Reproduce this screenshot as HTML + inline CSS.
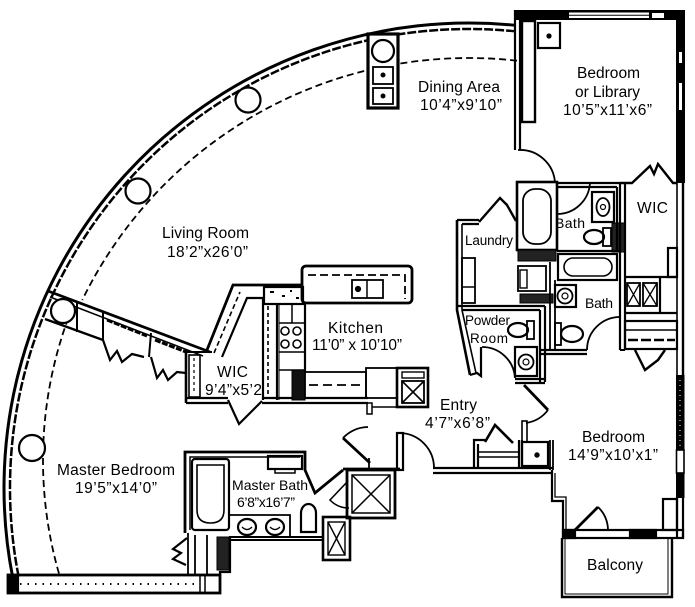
<!DOCTYPE html>
<html><head><meta charset="utf-8"><style>
html,body{margin:0;padding:0;background:#fff;}
svg{display:block}
text{font-family:"Liberation Sans",Arial,sans-serif;fill:#000;stroke:none}
</style></head><body>
<svg width="695" height="607" viewBox="0 0 695 607" xmlns="http://www.w3.org/2000/svg">
<rect width="695" height="607" fill="#fff"/>
<g fill="none" stroke="#000" stroke-width="2.2">

<!-- OUTER CURVED WALL -->
<path d="M515,25.3 A465,465 0 0 0 12.8,578" stroke-width="3"/>
<path d="M515,31.3 A459,459 0 0 0 18.9,578" stroke-width="2.5" stroke-dasharray="9,2"/>
<path d="M517,60.7 A430,430 0 0 0 82.3,300" stroke-width="1.8" stroke-dasharray="7,4"/>
<path d="M68.3,318 A411,411 0 0 0 60,577" stroke-width="1.8" stroke-dasharray="7,4"/>

<!-- columns -->
<circle cx="248" cy="100" r="12.5" fill="#fff"/>
<circle cx="138" cy="191" r="12.5" fill="#fff"/>
<circle cx="32" cy="448" r="13" fill="#fff"/>

<!-- dining column box -->
<rect x="368" y="34" width="30" height="74" fill="#fff" stroke-width="3.2"/>
<circle cx="383" cy="51" r="11" fill="#fff"/>
<rect x="373" y="67" width="20" height="17" stroke-width="1.8"/>
<rect x="373" y="88" width="20" height="16" stroke-width="1.8"/>
<circle cx="383" cy="75" r="1.4" fill="#000"/>
<circle cx="383" cy="96" r="1.4" fill="#000"/>

<!-- partition living / master bedroom -->
<path d="M48,291 L210,352" stroke-width="2.8"/>
<path d="M50,297 L203,356" stroke-width="1.6"/>
<path d="M45,319 L103,340" stroke-width="2.4"/>
<path d="M77,302 V332" stroke-width="2"/>
<path d="M103,313 V340" stroke-width="2"/>
<circle cx="63" cy="311" r="12" fill="#fff"/>
<path d="M107,320 L147,336" stroke-width="3" stroke-dasharray="6,1.5"/>
<path d="M155,340 L186,352" stroke-width="3" stroke-dasharray="6,1.5"/>
<path d="M151,333 L149,357" stroke-width="2"/>
<path d="M186,350 V362" stroke-width="2"/>
<path d="M103,340 L110,360 L117,351 L122,362 L132,354 L144,357" stroke-width="2.2"/>
<path d="M151,357 L157,378 L163,370 L168,380 L177,372 L186,373" stroke-width="2.2"/>

<!-- WIC near kitchen -->
<path d="M207,350 L233,285 H303" stroke-width="2.8"/>
<path d="M222,357 L247,298 H264" stroke-width="2.2"/>
<path d="M214,353 L240,292" stroke-width="1.6" stroke-dasharray="5,3"/>
<path d="M186,350 V403" stroke-width="2.6"/>
<path d="M186,352 H212" stroke-width="2"/>
<rect x="189" y="355" width="11" height="42" stroke-width="1.6"/>
<path d="M194,358 V394" stroke-width="1.2" stroke-dasharray="3,3"/>
<path d="M186,398 H228 M186,403 H228" stroke-width="2.2"/>
<path d="M228,400 L239,424 L262,401" stroke-width="2.2"/>
<path d="M262,398 H368 M262,403 H368" stroke-width="2.2"/>

<!-- kitchen -->
<rect x="302" y="266" width="110" height="37" rx="4" stroke-width="2.8"/>
<path d="M308,275 H405 V299" stroke-dasharray="8,4" stroke-width="1.8"/>
<rect x="352" y="280" width="31" height="18" stroke-width="1.8"/>
<line x1="367" y1="280" x2="367" y2="298" stroke-width="1.5"/>
<circle cx="358" cy="289" r="2" fill="#000"/>
<rect x="264" y="287" width="39" height="17" stroke-width="2.2"/>
<path d="M270,292 h4 M282,296 h3 M290,291 h2 M296,298 h3" stroke-width="2"/>
<line x1="263" y1="298" x2="263" y2="400" stroke-width="2.2"/>
<line x1="268" y1="306" x2="268" y2="398" stroke-width="1.6" stroke-dasharray="4,3"/>
<line x1="277" y1="304" x2="277" y2="400" stroke-width="2.2"/>
<line x1="279" y1="304" x2="279" y2="400" stroke-width="1"/>
<line x1="305" y1="304" x2="305" y2="372" stroke-width="2.2"/>
<line x1="292" y1="304" x2="292" y2="323" stroke-width="1.5"/>
<path d="M279,323 H305 M279,352 H305 M279,370 H305" stroke-width="1.6"/>
<circle cx="285" cy="331" r="4" stroke-width="1.6"/>
<circle cx="297" cy="331" r="4" stroke-width="1.6"/>
<circle cx="285" cy="344" r="4" stroke-width="1.6"/>
<circle cx="297" cy="344" r="4" stroke-width="1.6"/>
<rect x="292" y="370" width="13" height="30" fill="#111" stroke-width="1"/>
<rect x="305" y="372" width="61" height="26" stroke-width="1.8"/>
<path d="M309,385 H362" stroke-width="1.8" stroke-dasharray="9,5"/>
<rect x="366" y="368" width="31" height="30" stroke-width="1.8"/>
<rect x="397" y="368" width="31" height="39" stroke-width="2.6"/>
<rect x="402" y="372" width="22" height="6" stroke-width="1.4"/>
<rect x="402" y="381" width="22" height="22" stroke-width="1.8"/>
<path d="M402,381 L424,403 M424,381 L402,403" stroke-width="1.6"/>
<rect x="367" y="403" width="5" height="11" stroke-width="1.5"/>
<path d="M372,407 H397" stroke-width="1.5"/>

<!-- entry door from kitchen side -->
<path d="M370,463 L343,438" stroke-width="2.8"/>
<path d="M343,438 A36,36 0 0 1 368,427" stroke-width="1.8"/>
<path d="M369,458 V468" stroke-width="1.8"/>

<!-- shower + small x box -->
<path d="M343,469 H400" stroke-width="2.8"/>
<rect x="347" y="470" width="48" height="48" stroke-width="2.8"/>
<rect x="352" y="475" width="38" height="38" stroke-width="1.5"/>
<path d="M352,475 L390,513 M390,475 L352,513" stroke-width="1.5"/>
<rect x="323" y="517" width="27" height="43" stroke-width="2.6"/>
<rect x="328" y="522" width="17" height="33" stroke-width="1.4"/>
<path d="M328,522 L345,555 M345,522 L328,555" stroke-width="1.4"/>

<!-- master bath -->
<path d="M185,533 V452 H305 V470 L315,493 L343,470" stroke-width="2.8"/>
<path d="M190,530 V457 H300" stroke-width="1.5"/>
<rect x="192" y="459" width="37" height="71" rx="3" stroke-width="2.2"/>
<path d="M197,465 H224 V510 Q224,523 210.5,523 Q197,523 197,510 Z" stroke-width="1.6"/>
<rect x="268" y="456" width="34" height="13" stroke-width="2.2"/>
<rect x="275" y="469" width="20" height="4" stroke-width="1.5"/>
<path d="M229,515 H290 V537" stroke-width="1.8"/>
<path d="M229,537 H323 M229,540 H323" stroke-width="2"/>
<ellipse cx="247" cy="527" rx="9" ry="8" stroke-width="2.2"/>
<ellipse cx="275" cy="527" rx="9" ry="8" stroke-width="2.2"/>
<path d="M242,527 Q247,532 252,527 M270,527 Q275,532 280,527" stroke-width="1.3"/>
<path d="M301,532 V513 A7.5,9 0 0 1 316,513 V532 Z" stroke-width="2.2"/>
<path d="M300,532 H317" stroke-width="2"/>
<path d="M348,481 L330,500 A26,26 0 0 0 349,508" stroke-width="1.6"/>

<!-- master bedroom closet + bottom band -->
<path d="M188,533 V575 M195,535 V575 M207,535 V575" stroke-width="1.8"/>
<rect x="217" y="537" width="12" height="33" fill="#222" stroke-width="1"/>
<path d="M230,537 V572 H220 V576" stroke-width="2.2"/>
<path d="M187,538 L173,549 L181,553 L173,559 L186,565" stroke-width="2.2"/>
<rect x="8" y="575" width="212" height="18" stroke-width="2.8"/>
<rect x="8" y="575" width="10" height="18" fill="#000"/>
<path d="M20,584 H198" stroke-width="2" stroke-dasharray="1.5,6"/>
<path d="M200,575 V593 M205,575 V593" stroke-width="1.5"/>

<!-- entry -->
<rect x="397" y="433" width="6" height="37" stroke-width="2.2"/>
<path d="M400,433 A35,35 0 0 1 434,468" stroke-width="1.8"/>
<path d="M433,468 H553 M433,473 H551" stroke-width="2.2"/>
<path d="M474,468 V440 H485 M478,468 V444" stroke-width="2.2"/>
<path d="M485,442 L495,425 L513,443" stroke-width="2.6"/>
<path d="M478,452 H518 M478,457 H518" stroke-width="1.6"/>
<path d="M519,468 V440 M522,440 V468" stroke-width="2.2"/>
<rect x="522" y="442" width="26" height="24" stroke-width="2.2"/>
<circle cx="537" cy="455" r="1.6" fill="#000"/>
<path d="M550,440 V470 M553,440 V470" stroke-width="1.8"/>

<!-- bedroom door (entry -> bedroom) -->
<path d="M524,385 L548,410" stroke-width="2.8"/>
<path d="M548,410 A34,34 0 0 1 526,423" stroke-width="1.8"/>
<rect x="522" y="421" width="5" height="21" stroke-width="1.6"/>

<!-- lower right bedroom walls -->
<path d="M552,470 V501 H563 V530" stroke-width="2.2"/>
<path d="M555,473 V497 H566 V530" stroke-width="1.3"/>
<rect x="563" y="530" width="120" height="8" stroke-width="2.2"/>
<rect x="563" y="530" width="12" height="8" fill="#000"/>
<rect x="630" y="530" width="26" height="8" fill="#000"/>
<path d="M575,530 L598,507" stroke-width="2.8"/>
<path d="M598,507 A33,33 0 0 1 608,530" stroke-width="1.8"/>
<rect x="663" y="499" width="14" height="31" stroke-width="2.2"/>
<path d="M562,538 V597 H672 V538" stroke-width="2.4"/>
<path d="M565,538 V594 H668 V538" stroke-width="1"/>

<!-- right exterior wall -->
<rect x="676" y="10" width="9" height="173" fill="#000" stroke="none"/>
<rect x="679" y="52" width="3" height="11" fill="#fff" stroke="none"/>
<rect x="679" y="83" width="3" height="27" fill="#fff" stroke="none"/>
<line x1="677" y1="183" x2="677" y2="375" stroke-width="1.6"/>
<line x1="683" y1="183" x2="683" y2="375" stroke-width="2.4"/>
<rect x="676" y="375" width="8.5" height="75" fill="#000" stroke="none"/>
<path d="M680,380 V446" stroke="#fff" stroke-width="1" stroke-dasharray="1,4"/>
<rect x="676.5" y="450" width="7.5" height="23" stroke-width="1.6"/>
<rect x="676" y="473" width="8.5" height="25" fill="#000" stroke="none"/>
<path d="M677,497 V538 M683,497 V538" stroke-width="2.2"/>

<!-- top wall -->
<rect x="515" y="10" width="170" height="10" fill="#000" stroke="none"/>
<rect x="569" y="12.5" width="80" height="5.5" fill="#fff" stroke="none"/>
<line x1="569" y1="15.3" x2="649" y2="15.3" stroke-width="1"/>
<rect x="652" y="13" width="12" height="5" fill="#fff" stroke="none"/>

<!-- bedroom / library -->
<path d="M515,10 V150 M520,20 V150" stroke-width="2.2"/>
<rect x="522" y="21" width="13" height="101" stroke-width="2.4"/>
<rect x="538" y="23" width="22" height="25" stroke-width="2.2"/>
<circle cx="549" cy="36" r="1.5" fill="#000"/>
<path d="M518,150 A35,35 0 0 1 555,183" stroke-width="1.8"/>

<!-- tub column -->
<rect x="517" y="182" width="40" height="68" stroke-width="2.6"/>
<rect x="523" y="189" width="28" height="55" rx="12" stroke-width="1.8"/>
<rect x="518" y="250" width="38" height="11" fill="#222" stroke-width="1"/>
<rect x="518" y="266" width="28" height="25" stroke-width="1.8"/>
<rect x="520" y="270" width="7" height="18" stroke-width="1.4"/>
<rect x="520" y="294" width="33" height="9" fill="#222" stroke-width="1"/>

<!-- upper bath -->
<path d="M557,183 H620 M557,187 H617" stroke-width="2.2"/>
<path d="M557,214 A33,33 0 0 0 590,183" stroke-width="1.8"/>
<rect x="592" y="192" width="22" height="30" stroke-width="2.2"/>
<ellipse cx="603" cy="207" rx="6.5" ry="9" stroke-width="1.8"/>
<circle cx="603" cy="207" r="2.5" stroke-width="1.2"/>
<ellipse cx="594" cy="237" rx="10" ry="7" stroke-width="2.2"/>
<rect x="603" y="228" width="8" height="18" stroke-width="1.8"/>
<rect x="612" y="223" width="13" height="29" fill="#222" stroke-width="1"/>
<path d="M617,187 V250 M620,183 V350 M625,183 V350" stroke-width="2.2"/>
<path d="M557,251 H620" stroke-width="2.2"/>
<rect x="558" y="254" width="59" height="26" stroke-width="2.2"/>
<rect x="564" y="258" width="48" height="18" rx="9" stroke-width="1.6"/>

<!-- lower bath -->
<path d="M550,262 V350 M555,280 V350" stroke-width="1.8"/>
<rect x="555" y="285" width="21" height="22" stroke-width="2.2"/>
<circle cx="565" cy="296" r="7.5" stroke-width="1.8"/>
<circle cx="565" cy="296" r="3" stroke-width="1.2"/>
<rect x="555" y="323" width="6" height="22" stroke-width="1.8"/>
<ellipse cx="572" cy="334" rx="11" ry="8" stroke-width="2.2"/>
<path d="M540,350 H587 M540,354 H587" stroke-width="2.2"/>
<path d="M587,350 A33,33 0 0 1 620,317" stroke-width="1.8"/>

<!-- WIC (upper right) + linen -->
<path d="M620,183 H632 L650,166 L654,174 L658,164 L673,183 H677" stroke-width="2.4"/>
<rect x="668" y="248" width="9" height="29" stroke-width="2.2"/>
<path d="M625,277 H677 M625,313 H677 M660,277 V313" stroke-width="2.2"/>
<rect x="627" y="283" width="13" height="23" stroke-width="1.8"/>
<path d="M627,283 L640,306 M640,283 L627,306" stroke-width="1.3"/>
<rect x="643" y="283" width="14" height="23" stroke-width="1.8"/>
<path d="M643,283 L657,306 M657,283 L643,306" stroke-width="1.3"/>
<rect x="625" y="321" width="52" height="28" stroke-width="2.2"/>
<path d="M625,330 H677" stroke-width="1.5"/>
<path d="M628,340 H675" stroke-width="2.4" stroke-dasharray="10,3"/>
<path d="M635,350 L645,370 L658,360 L665,350" stroke-width="2.4"/>
<path d="M620,350 H625" stroke-width="2"/>

<!-- laundry / powder -->
<path d="M457,220 V310 L470,375" stroke-width="2.6"/>
<path d="M462,224 V310 L476,373" stroke-width="1.6"/>
<path d="M470,375 L477,373 L481,376 V347" stroke-width="2.2"/>
<path d="M457,220 H479 M462,224 H479" stroke-width="2.2"/>
<path d="M479,222 L500,198 L507,205 L516,221" stroke-width="2.4"/>
<rect x="462" y="258" width="13" height="45" stroke-width="1.8"/>
<path d="M462,287 H475" stroke-width="1.5"/>
<path d="M457,306 H545 M462,310 H540" stroke-width="2.2"/>
<ellipse cx="518" cy="330" rx="10" ry="7" stroke-width="2.2"/>
<rect x="527" y="321" width="7" height="18" stroke-width="1.8"/>
<rect x="515" y="347" width="22" height="29" stroke-width="2.2"/>
<circle cx="526" cy="362" r="7.5" stroke-width="1.8"/>
<circle cx="526" cy="362" r="3" stroke-width="1.2"/>
<path d="M540,310 V382 M545,306 V382" stroke-width="2.2"/>
<path d="M515,379 H545 M515,383 H545" stroke-width="2.2"/>
<path d="M482,347 A33,33 0 0 1 515,378" stroke-width="1.8"/>
</g>

<!-- LABELS -->
<g font-size="15.5">
<text x="418" y="92" textLength="82">Dining Area</text>
<text x="420" y="110" textLength="82">10’4”x9’10”</text>
<text x="577" y="78" textLength="63">Bedroom</text>
<text x="575" y="97" textLength="65">or Library</text>
<text x="563" y="115" textLength="89">10’5”x11’x6”</text>
<text x="162" y="238" textLength="87">Living Room</text>
<text x="167" y="257" textLength="81">18’2”x26’0”</text>
<text x="328" y="333" textLength="55">Kitchen</text>
<text x="312" y="350" textLength="90">11’0” x 10’10”</text>
<text x="217" y="377" textLength="31">WIC</text>
<text x="205" y="395" textLength="57">9’4”x5’2</text>
<text x="57" y="475" textLength="118">Master Bedroom</text>
<text x="75" y="493" textLength="82">19’5”x14’0”</text>
<text x="440" y="410" textLength="37">Entry</text>
<text x="425" y="428" textLength="65">4’7”x6’8”</text>
<text x="582" y="442" textLength="63">Bedroom</text>
<text x="568" y="460" textLength="90">14’9”x10’x1”</text>
<text x="587" y="570" textLength="56">Balcony</text>
<text x="637" y="213" textLength="31">WIC</text>
</g>
<g font-size="14">
<text x="232" y="490" textLength="76">Master Bath</text>
<text x="237" y="507" textLength="58">6’8”x16’7”</text>
<text x="555" y="228" textLength="30">Bath</text>
<text x="585" y="308" textLength="28">Bath</text>
</g>
<g font-size="13.5">
<text x="465" y="325" textLength="45">Powder</text>
<text x="470" y="343" textLength="38">Room</text>
<text x="465" y="245" textLength="48">Laundry</text>
</g>
</svg>
</body></html>
